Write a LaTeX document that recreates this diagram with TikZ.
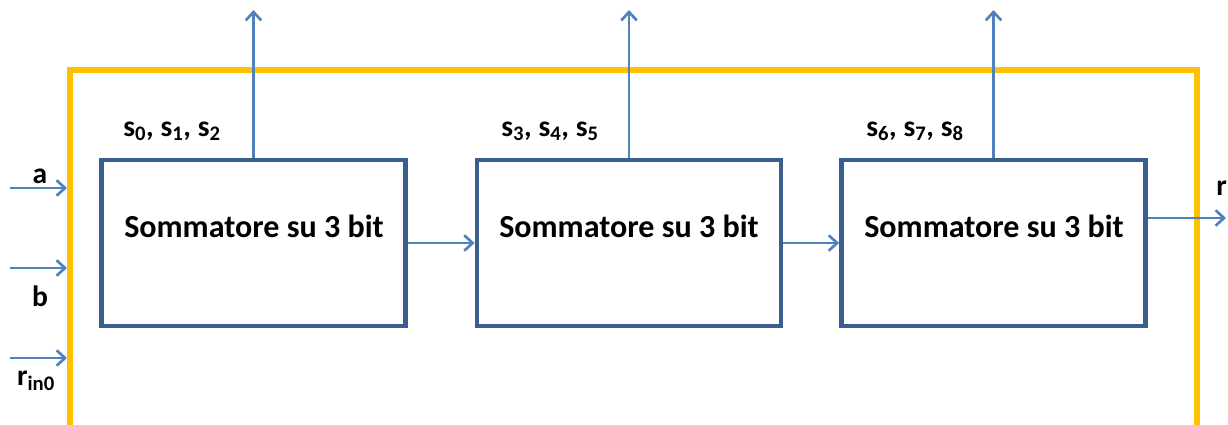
\documentclass[tikz,border=0pt]{standalone}
\usepackage{fontspec}
\setmainfont{Carlito}
\usetikzlibrary{arrows.meta}
\definecolor{frameorange}{HTML}{FFC000}
\definecolor{boxblue}{HTML}{3A5F8F}
\definecolor{wireblue}{HTML}{4F81BD}
\tikzset{
  adder/.style={draw=boxblue, line width=3.3pt, minimum width=7.6cm, minimum height=4.15cm, inner sep=0pt},
  adtext/.style={font=\bfseries\fontsize{22.8}{27}\selectfont, inner sep=0pt},
  wire/.style={draw=wireblue, line width=1.9pt, ->},
  lbl/.style={font=\bfseries\fontsize{21}{25}\selectfont, inner sep=0pt},
}
\begin{document}
\begin{tikzpicture}[x=0.025cm,y=-0.025cm,>={Straight Barb[length=6pt,width=11pt]}]
\useasboundingbox (0,0) rectangle (1228,425);
% outer frame
\draw[frameorange, line width=4.3pt] (70,470) -- (70,70) -- (1197,70) -- (1197,470);
\coordinate (fl) at (67,70);
% adders
\node[adder] (add1) at (253.5,243) {};
\node[adder] (add2) at (629,243) {};
\node[adder] (add3) at (993.5,243) {};
\node[adtext] (t1) at (254,226) {Sommatore su 3 bit};
\node[adtext] (t2) at (629,226) {Sommatore su 3 bit};
\node[adtext] (t3) at (994,226) {Sommatore su 3 bit};
% carries
\draw[wire] (add1.east) -- (add2.west);
\draw[wire] (add2.east) -- (add3.west);
\coordinate (rout) at (1226,218);
\draw[wire] (add3.east |- rout) -- (rout);
\node[lbl, anchor=west] (r) at (1216,188) {r};
% sums out
\coordinate (o1) at (253.5,10);
\coordinate (o2) at (629,10);
\coordinate (o3) at (993.5,10);
\draw[wire] (add1.north) -- (o1);
\draw[wire] (add2.north) -- (o2);
\draw[wire] (add3.north) -- (o3);
\node[lbl] (s1) at (172,131) {s\textsubscript{0}, s\textsubscript{1}, s\textsubscript{2}};
\node[lbl] (s2) at (550,131) {s\textsubscript{3}, s\textsubscript{4}, s\textsubscript{5}};
\node[lbl] (s3) at (915,131) {s\textsubscript{6}, s\textsubscript{7}, s\textsubscript{8}};
% inputs
\coordinate (ain) at (10,188);
\coordinate (bin) at (10,268);
\coordinate (rin) at (10,358);
\draw[wire] (ain) -- (ain -| fl);
\draw[wire] (bin) -- (bin -| fl);
\draw[wire] (rin) -- (rin -| fl);
\node[lbl] (a) at (40,176) {a};
\node[lbl] (b) at (40,296) {b};
\node[lbl] (r0) at (36,381) {r\textsubscript{in0}};
\end{tikzpicture}
\end{document}
